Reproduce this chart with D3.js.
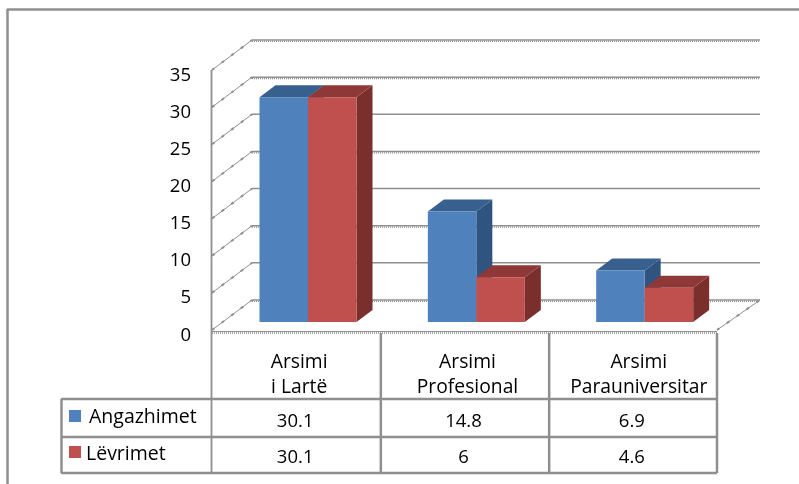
<!DOCTYPE html>
<html><head><meta charset="utf-8">
<script src="https://cdn.jsdelivr.net/npm/d3@7"></script>
<style>html,body{margin:0;padding:0;background:#fff}svg{display:block;filter:blur(0.3px)}text{font-family:"Open Sans",Lato,sans-serif;fill:#000}</style>
</head><body><svg id="c" width="799" height="484"></svg>
<script>
const categories = ["Arsimi\ni Lartë", "Arsimi\nProfesional", "Arsimi\nParauniversitar"];
const seriesNames = ["Angazhimet", "Lëvrimet"];
const angazhimet = [30.1, 14.8, 6.9];
const levrimet = [30.1, 6, 4.6];
const yTicks = [0, 5, 10, 15, 20, 25, 30, 35];
const solidGrid = [5, 15, 25];
const GRAY = "#8f8f8f";
const blue = {front:"#4f81bd", top:"#38608f", side:"#2f5480"};
const red = {front:"#c0504d", top:"#8e3937", side:"#7a2f2d"};

const svg = d3.select("#c");
const y = d3.scaleLinear().domain([0, 35]).range([330, 70]);
const x = d3.scaleBand().domain(d3.range(3)).range([212, 717]);
const sub = d3.scaleBand().domain([0, 1]).range([0, 97]);
const yBar = d3.scaleLinear().domain([0, 35]).range([322, 60.6]);
const wall = {dx: 40, dy: -30}, bar = {dx: 16, dy: -12};
const barLeft = i => x(i) + 47.5;
const line = (x1, y1, x2, y2, w, dash) => svg.append("line").attr("x1", x1).attr("y1", y1).attr("x2", x2).attr("y2", y2)
  .attr("stroke", GRAY).attr("stroke-width", w).attr("stroke-dasharray", dash || null);

// outer frame
line(7.5, 9, 7.5, 484, 2.5);
line(7, 9.5, 799, 9.5, 2.5);

// grid on side wall and back wall
yTicks.forEach(t => {
  const yy = y(t);
  line(212, yy, 212 + wall.dx, yy + wall.dy, 1);
  line(212, yy, 212 + wall.dx, yy + wall.dy, 2, "3 9");
  if (t > 0) {
    line(212 + wall.dx, yy + wall.dy, 760, yy + wall.dy, 1.5);
    if (!solidGrid.includes(t)) line(212 + wall.dx, yy + wall.dy + 1.4, 760, yy + wall.dy + 1.4, 1.2, "1 1");
  }
});
line(252, y(0) + wall.dy, 760, y(0) + wall.dy, 1.5);
line(252, y(0) + wall.dy + 1.4, 760, y(0) + wall.dy + 1.4, 1.2, "1 1");
line(717, 330, 760, 300, 1);
line(717, 330, 760, 300, 2, "3 9");
line(211.5, y(35), 211.5, 473, 1.8);
line(212, 331.5, 717, 331.5, 1.2);
line(212, 333, 717, 333, 1.6, "1 1");

// tick labels
svg.selectAll("text.tick").data(yTicks).join("text").attr("class", "tick")
  .attr("x", 191).attr("y", d => y(d) + 10.5).attr("text-anchor", "end")
  .attr("font-size", 18.5).text(d => d);

// 3D bars
function drawBar(i, s, v, col) {
  const x0 = barLeft(i) + sub(s), x1 = x0 + sub.bandwidth(), yt = yBar(v), yb = yBar(0);
  const g = svg.append("g");
  const poly = (pts, fill) => g.append("polygon").attr("points", pts.join(" ")).attr("fill", fill);
  poly([[x1, yt], [x1 + bar.dx, yt + bar.dy], [x1 + bar.dx, yb + bar.dy], [x1, yb]], col.side);
  poly([[x0, yt], [x0 + bar.dx, yt + bar.dy], [x1 + bar.dx, yt + bar.dy], [x1, yt]], col.top);
  poly([[x0, yt], [x1, yt], [x1, yb], [x0, yb]], col.front);
}
categories.forEach((c, i) => {
  drawBar(i, 0, angazhimet[i], blue);
  drawBar(i, 1, levrimet[i], red);
});

// data table
const rowLines = [399, 437, 473];
rowLines.forEach(r => line(61, r, 717, r, 2.5));
line(61.5, 399, 61.5, 473, 2.5);
[1, 2].forEach(i => line(x(i) + 0.5, 333, x(i) + 0.5, 473, 2.5));
line(717, 333, 717, 473, 2.5);

const catOffset = [3, 3, 6];
categories.forEach((c, i) => {
  c.split("\n").forEach((t, k) => svg.append("text").attr("x", x(i) + x.bandwidth() / 2 + catOffset[i])
    .attr("y", 368 + k * 25).attr("text-anchor", "middle").attr("font-size", 19.3).text(t));
  svg.append("text").attr("x", x(i) + x.bandwidth() / 2 - 1).attr("y", 427).attr("text-anchor", "middle").attr("font-size", 18.5).text(angazhimet[i]);
  svg.append("text").attr("x", x(i) + x.bandwidth() / 2 - 1).attr("y", 463).attr("text-anchor", "middle").attr("font-size", 18.5).text(levrimet[i]);
});

// legend keys
svg.append("rect").attr("x", 69).attr("y", 410).attr("width", 12).attr("height", 12).attr("fill", blue.front);
svg.append("rect").attr("x", 69).attr("y", 446).attr("width", 12).attr("height", 12).attr("fill", red.front);
svg.append("text").attr("x", 89).attr("y", 423).attr("font-size", 19.5).text(seriesNames[0]);
svg.append("text").attr("x", 86).attr("y", 460).attr("font-size", 19.5).text(seriesNames[1]);
</script></body></html>
